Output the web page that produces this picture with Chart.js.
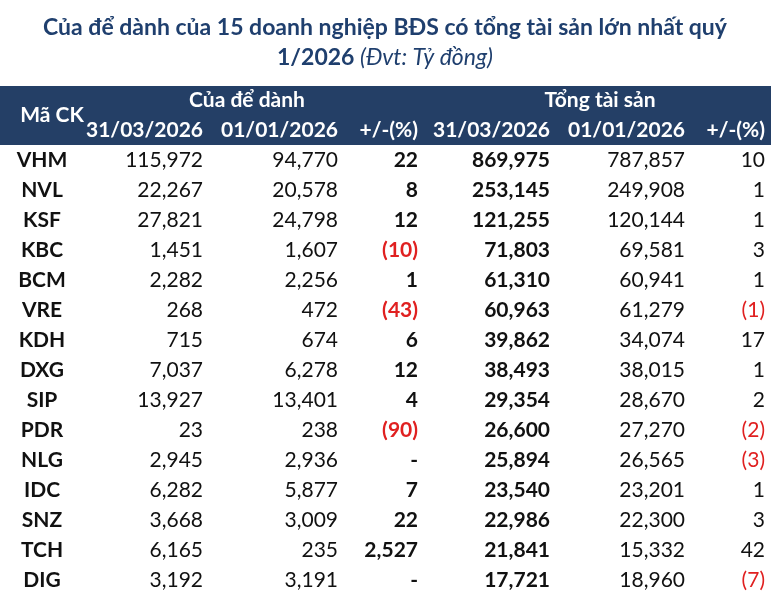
<!DOCTYPE html>
<html><head><meta charset="utf-8">
<script src="https://cdn.jsdelivr.net/npm/chart.js@4"></script>
<style>html,body{margin:0;background:#fff}#wrap{width:771px;height:595px}</style>
</head><body><div id="wrap"><canvas id="c"></canvas></div>
<script>
// Data
const tickers = ['VHM','NVL','KSF','KBC','BCM','VRE','KDH','DXG','SIP','PDR','NLG','IDC','SNZ','TCH','DIG'];
const saving2026Q1 = [115972,22267,27821,1451,2282,268,715,7037,13927,23,2945,6282,3668,6165,3192];
const saving2026Start = [94770,20578,24798,1607,2256,472,674,6278,13401,238,2936,5877,3009,235,3191];
const savingChange = [22,8,12,-10,1,-43,6,12,4,-90,null,7,22,2527,null];
const assets2026Q1 = [869975,253145,121255,71803,61310,60963,39862,38493,29354,26600,25894,23540,22986,21841,17721];
const assets2026Start = [787857,249908,120144,69581,60941,61279,34074,38015,28670,27270,26565,23201,22300,15332,18960];
const assetsChange = [10,1,1,3,1,-1,17,1,2,-2,-3,1,3,42,-7];
const dateLabels = ['31/03/2026','01/01/2026','+/-(%)','31/03/2026','01/01/2026','+/-(%)'];

const NAVY = '#243f66';
const FONT = 'Lato, "Noto Sans", sans-serif';
const fmt = v => v == null ? '-' : v < 0 ? '(' + Math.abs(v).toLocaleString('en-US') + ')' : v.toLocaleString('en-US');

// column anchors (right edges), bold flags
const cols = [
  {x: 203, data: saving2026Q1, bold: false},
  {x: 338, data: saving2026Start, bold: false},
  {x: 418, data: savingChange, bold: true},
  {x: 550, data: assets2026Q1, bold: true},
  {x: 685, data: assets2026Start, bold: false},
  {x: 765, data: assetsChange, bold: false}
];

const datasets = cols.map(c => ({
  data: tickers.map((t, i) => ({x: c.x, y: t, v: c.data[i]})),
  pointRadius: 0, bold: c.bold
}));
datasets.unshift({data: tickers.map(t => ({x: 42, y: t, v: t})), pointRadius: 0, bold: true, ticker: true});

const tablePlugin = {
  id: 'table',
  beforeDraw(chart) {
    const ctx = chart.ctx;
    ctx.save();
    ctx.fillStyle = '#1f3f6e';
    ctx.textAlign = 'center';
    ctx.textBaseline = 'middle';
    ctx.font = 'bold 23px ' + FONT;
    ctx.fillText('Của để dành của 15 doanh nghiệp BĐS có tổng tài sản lớn nhất quý', 385, 28);
    const a = '1/2026 ', b = '(Đvt: Tỷ đồng)';
    const wa = ctx.measureText(a).width;
    ctx.font = 'italic 23px ' + FONT;
    const wb = ctx.measureText(b).width;
    const x0 = 385 - (wa + wb) / 2;
    ctx.textAlign = 'left';
    ctx.font = 'bold 23px ' + FONT;
    ctx.fillText(a, x0, 58);
    ctx.font = 'italic 23px ' + FONT;
    ctx.fillText(b, x0 + wa, 58);
    // header band
    ctx.fillStyle = NAVY;
    ctx.fillRect(0, 86, 771, 59);
    ctx.fillStyle = '#fff';
    ctx.font = 'bold 21px ' + FONT;
    ctx.textAlign = 'center';
    ctx.fillText('Mã CK', 52, 115);
    ctx.fillText('Của để dành', 247, 100);
    ctx.fillText('Tổng tài sản', 600, 100);
    ctx.textAlign = 'right';
    dateLabels.forEach((l, i) => ctx.fillText(l, cols[i].x, 130));
    ctx.restore();
  },
  afterDatasetsDraw(chart) {
    const ctx = chart.ctx;
    ctx.save();
    ctx.textBaseline = 'middle';
    chart.data.datasets.forEach((ds, di) => {
      const meta = chart.getDatasetMeta(di);
      meta.data.forEach((pt, i) => {
        const v = ds.data[i].v;
        ctx.font = (ds.bold ? 'bold ' : '') + '21px ' + FONT;
        ctx.textAlign = ds.ticker ? 'center' : 'right';
        ctx.fillStyle = (!ds.ticker && v < 0) ? '#e02020' : '#111';
        ctx.fillText(ds.ticker ? v : fmt(v), pt.x, pt.y);
      });
    });
    ctx.restore();
  }
};

new Chart(document.getElementById('c'), {
  type: 'scatter',
  data: {datasets},
  options: {
    responsive: true, maintainAspectRatio: false, animation: false,
    layout: {padding: {top: 145, left: 0, right: 0, bottom: 0}},
    plugins: {legend: {display: false}, tooltip: {enabled: false}},
    scales: {
      x: {type: 'linear', min: 0, max: 771, display: false},
      y: {type: 'category', labels: tickers, offset: true, display: false}
    }
  },
  plugins: [tablePlugin]
});
</script></body></html>
